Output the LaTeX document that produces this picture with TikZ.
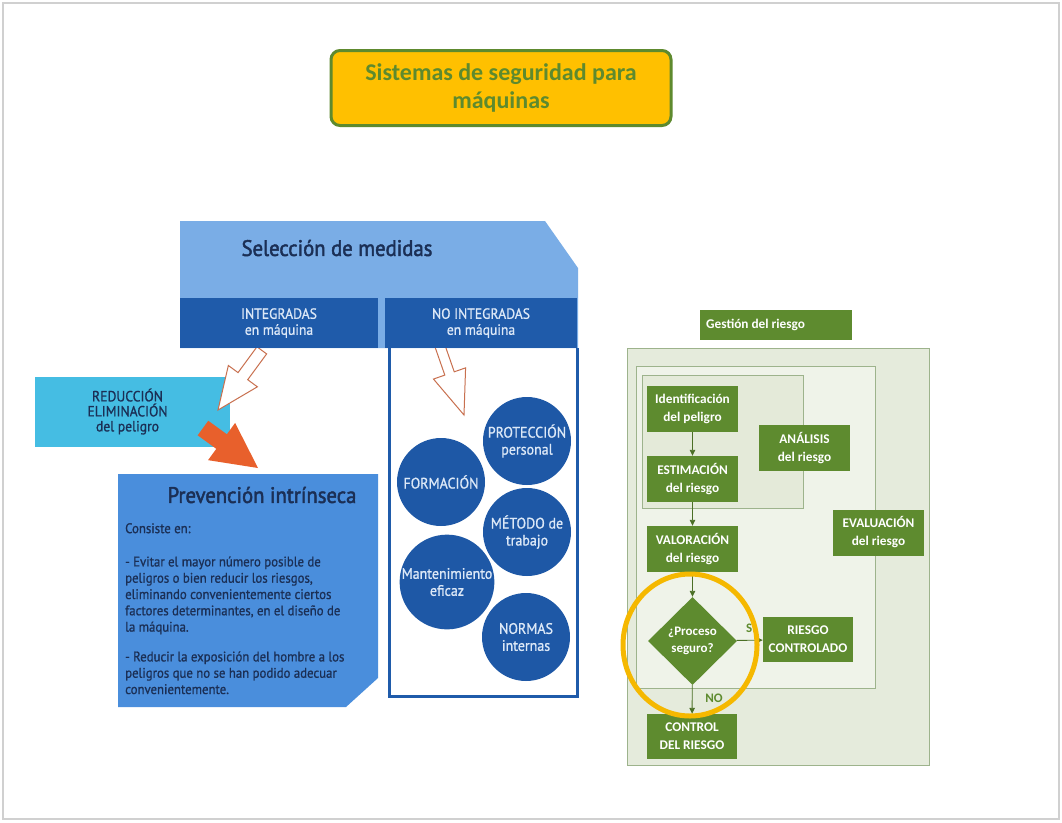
\documentclass[tikz,border=0pt]{standalone}
\usepackage{fontspec}
\setmainfont{Carlito}
\newfontfamily\cond[FakeStretch=0.92,FakeBold=0.9]{PT Sans}
\newfontfamily\condh[FakeStretch=0.92,FakeBold=2]{PT Sans}
\usetikzlibrary{shapes.geometric,arrows.meta}
\definecolor{ttlfill}{HTML}{FFC000}
\definecolor{ttlgreen}{HTML}{5E8A2E}
\definecolor{lblue}{HTML}{7AADE6}
\definecolor{dblue}{HTML}{1F5BAA}
\definecolor{cblue}{HTML}{1E58A6}
\definecolor{pblue}{HTML}{4A8EDC}
\definecolor{cyanb}{HTML}{45BDE3}
\definecolor{navy}{HTML}{1B2F55}
\definecolor{bartxt}{HTML}{DCE8F7}
\definecolor{harrow}{HTML}{C8704F}
\definecolor{oarrow}{HTML}{E8602C}
\definecolor{gdark}{HTML}{5E8B2F}
\definecolor{gouter}{HTML}{E5EBDC}
\definecolor{gmid}{HTML}{EFF3E9}
\definecolor{ginner}{HTML}{E4EAD9}
\definecolor{gline}{HTML}{9DB38C}
\definecolor{ring}{HTML}{F5B800}
\definecolor{pageline}{HTML}{D0D0D0}
\tikzset{
  titlebox/.style={draw=ttlgreen, line width=3pt, fill=ttlfill, rounded corners=9pt,
    minimum width=340, minimum height=75, align=center, text=ttlgreen,
    font=\fontsize{24}{28}\selectfont\bfseries},
  barbox/.style={fill=dblue, minimum height=50, inner sep=0, align=center, text=bartxt,
    font=\cond\fontsize{14.8}{16}\selectfont},
  bcirc/.style={circle, fill=cblue, minimum size=88, inner sep=0, align=center, text=bartxt,
    font=\cond\fontsize{15.2}{17}\selectfont},
  gbox/.style={fill=gdark, inner sep=0, align=center, text=white,
    font=\fontsize{13.3}{18}\selectfont\bfseries},
  garrow/.style={draw=gdark!80!black, line width=0.9pt, -{Triangle[length=6pt,width=5.5pt]}},
  glabel/.style={text=gdark, font=\fontsize{13}{15}\selectfont\bfseries, inner sep=0},
  hollowarrow/.style={draw=harrow, line width=1pt, fill=white},
}
\begin{document}
\begin{tikzpicture}[x=1pt,y=-1pt]
\useasboundingbox (0,0) rectangle (1062,822);
\fill[white] (0,0) rectangle (1062,822);
\draw[pageline, line width=1.5pt] (3,3) rectangle (1059,819);

% title
\node[titlebox] (title) at (501,88) {Sistemas de seguridad para\\máquinas};

% Selección de medidas
\fill[lblue] (180,221) -- (545,221) -- (578,268) -- (578,348) -- (180,348) -- cycle;
\node[text=navy, font=\condh\fontsize{22.5}{24}\selectfont] (sel) at (337,248) {Selección de medidas};

% reduction box
\node[fill=cyanb, minimum width=195, minimum height=70, inner sep=0, align=center,
  text=navy, font=\cond\fontsize{14.8}{15}\selectfont] (red) at (132.5,411.5)
  {\hspace*{-10pt}REDUCCIÓN\\\hspace*{-10pt}ELIMINACIÓN\\\hspace*{-10pt}del peligro};

% hollow arrows
\begin{scope}[shift={(218,410)}, rotate=233.7]
  \draw[hollowarrow] (0,0) -- (-42,18) -- (-42,6) -- (-74,6) -- (-74,-6) -- (-42,-6) -- (-42,-18) -- cycle;
\end{scope}
\begin{scope}[shift={(464,415)}, rotate=-70.8]
  \draw[hollowarrow] (0,0) -- (-44,17) -- (-44,5) -- (-73,5) -- (-73,-5) -- (-44,-5) -- (-44,-17) -- cycle;
\end{scope}
% orange arrow
\begin{scope}[shift={(258,468)}, rotate=-36]
  \fill[oarrow] (0,0) -- (-45,23) -- (-45,9) -- (-68,9) -- (-68,-9) -- (-45,-9) -- (-45,-23) -- cycle;
\end{scope}

% bars
\node[barbox, minimum width=198] (integ) at (279,323) {INTEGRADAS\\en máquina};
\node[barbox, minimum width=192] (nointeg) at (481,323) {NO INTEGRADAS\\en máquina};
\draw[dblue, line width=3pt] (389,348) -- (389,696) -- (577,696) -- (577,348);

% circles
\node[bcirc] (prot) at (527,441) {PROTECCIÓN\\personal};
\node[bcirc] (form) at (441,482) {FORMACIÓN};
\node[bcirc] (metodo) at (527,532) {MÉTODO de\\trabajo};
\node[bcirc] (mant) at (447,582) {Mantenimiento\\eficaz};
\node[bcirc] (normas) at (526,637) {NORMAS\\internas};

% prevention box
\fill[pblue] (118,474) -- (378,474) -- (378,678) -- (346,707) -- (118,707) -- cycle;
\node[text=navy, font=\condh\fontsize{22.5}{24}\selectfont] (prevt) at (262,495) {Prevención intrínseca};
\node[anchor=north west, inner sep=0, align=left, text=navy,
  font=\cond\fontsize{13.9}{16.3}\selectfont] (prevb) at (125,523)
  {Consiste en:\\[17pt]
   - Evitar el mayor número posible de\\
   peligros o bien reducir los riesgos,\\
   eliminando convenientemente ciertos\\
   factores determinantes, en el diseño de\\
   la máquina.\\[13.5pt]
   - Reducir la exposición del hombre a los\\
   peligros que no se han podido adecuar\\
   convenientemente.};

% green region
\node[fill=gdark, minimum width=152, minimum height=30, inner sep=0] (gesth) at (776,324.5) {};
\node[anchor=west, text=white, font=\fontsize{13.3}{15}\selectfont\bfseries, inner sep=0] (gest) at (706,324.5) {Gestión del riesgo};
\draw[gline, fill=gouter, line width=1pt] (627,348) rectangle (929,765);
\draw[gline, fill=gmid, line width=1pt] (636,366) rectangle (875,688);
\draw[gline, fill=ginner, line width=1pt] (642,375) rectangle (803,508);

\node[gbox, minimum width=91, minimum height=46] (ident) at (692.5,409) {Identificación\\del peligro};
\node[gbox, minimum width=91, minimum height=46] (estim) at (692.5,479) {ESTIMACIÓN\\del riesgo};
\node[gbox, minimum width=91, minimum height=46] (anal) at (804.5,448) {ANÁLISIS\\del riesgo};
\node[gbox, minimum width=91, minimum height=46] (evalu) at (878.5,532.5) {EVALUACIÓN\\del riesgo};
\node[gbox, minimum width=91, minimum height=46] (valor) at (692.5,549) {VALORACIÓN\\del riesgo};
\node[diamond, fill=gdark, minimum width=89, minimum height=88, inner sep=0, align=center,
  text=white, font=\fontsize{13}{17.5}\selectfont\bfseries] (proc) at (692.5,641) {¿Proceso\\seguro?};
\node[gbox, minimum width=90, minimum height=45] (ctrlado) at (808,639.5) {RIESGO\\CONTROLADO};
\node[gbox, minimum width=90, minimum height=45] (ctrl) at (692,736.5) {CONTROL\\DEL RIESGO};

\draw[garrow] (ident) -- (estim);
\draw[garrow] (estim) -- (valor);
\draw[garrow] (valor) -- (proc);
\draw[garrow] (proc) -- (ctrl);
\draw[garrow] (proc) -- (ctrlado);
\node[glabel] (nolbl) at (714,698) {NO};
\node[glabel] (silbl) at (751,628) {SI};

% highlight ring
\draw[ring, line width=5pt] (690,645) ellipse [x radius=67, y radius=71];
\end{tikzpicture}
\end{document}
